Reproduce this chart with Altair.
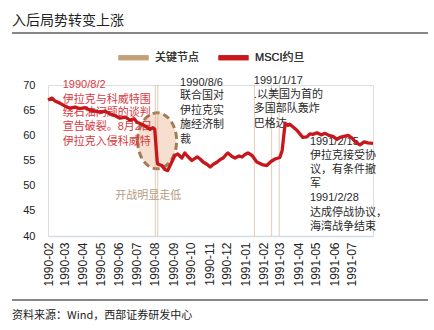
import altair as alt
import pandas as pd

# ---- data ----
dates = ["1990/02/01","1990/02/08","1990/02/13","1990/02/21","1990/03/02","1990/03/10","1990/03/19","1990/03/27",
         "1990/04/05","1990/04/13","1990/04/22","1990/04/30","1990/05/09","1990/05/17","1990/05/26","1990/06/03",
         "1990/06/12","1990/06/20","1990/06/27","1990/07/02","1990/07/10","1990/07/19","1990/07/24","1990/07/29",
         "1990/08/01","1990/08/03","1990/08/05","1990/08/06","1990/08/13","1990/08/18","1990/08/23","1990/08/29",
         "1990/09/04","1990/09/09","1990/09/16","1990/09/21","1990/09/26","1990/10/03","1990/10/12","1990/10/17",
         "1990/10/22","1990/10/29","1990/11/03","1990/11/09","1990/11/15","1990/11/20","1990/11/25","1990/11/30",
         "1990/12/03","1990/12/10","1990/12/15","1990/12/22","1990/12/27","1991/01/01","1991/01/06","1991/01/13",
         "1991/01/21","1991/01/30","1991/02/07","1991/02/14","1991/02/21","1991/03/01","1991/03/05","1991/03/10",
         "1991/03/15","1991/03/18","1991/03/25","1991/03/30","1991/04/04","1991/04/09","1991/04/16","1991/04/21",
         "1991/04/26","1991/05/03","1991/05/10","1991/05/17","1991/05/23","1991/05/30","1991/06/06","1991/06/11",
         "1991/06/18","1991/06/25","1991/07/01","1991/07/08","1991/07/15","1991/07/22","1991/07/28","1991/08/06"]
msci = [67.0,67.4,66.8,66.4,65.8,65.4,65.6,65.3,
        65.5,65.0,64.8,64.6,64.8,64.3,63.9,63.4,
        63.6,63.0,63.3,62.6,62.2,61.6,61.2,61.5,
        61.2,58.0,55.0,54.3,54.0,53.2,53.0,54.5,
        56.0,56.3,55.5,56.5,55.8,55.0,55.7,55.3,
        54.7,54.2,53.7,54.3,54.7,55.2,55.5,56.2,
        56.5,55.8,55.5,55.9,55.7,56.2,56.5,56.0,
        54.7,54.2,54.0,54.8,55.3,55.6,57.0,62.4,
        62.0,62.2,61.5,61.0,60.3,59.6,59.7,60.3,
        60.2,60.5,60.1,60.4,60.0,59.8,59.2,59.6,
        59.8,60.0,59.5,58.6,58.1,58.7,58.5,58.4]
assert len(dates) == len(msci)

series_names = ["关键节点", "MSCI约旦"]
key_dates = ["1990/08/02", "1990/08/06", "1991/01/17", "1991/02/15", "1991/02/28"]

month_ticks = ["1990-02","1990-03","1990-04","1990-05","1990-06","1990-07","1990-08","1990-09","1990-10",
               "1990-11","1990-12","1991-01","1991-02","1991-03","1991-04","1991-05","1991-06","1991-07"]
y_ticks = [40, 45, 50, 55, 60, 65, 70]

# annotation lines: (text, date anchor, value anchor, group)
ann_text = ["1990/8/2", "伊拉克与科威特围", "绕石油问题的谈判", "宣告破裂。8月2日", "伊拉克入侵科威特",
            "1990/8/6", "联合国对", "伊拉克实", "施经济制", "裁",
            "1991/1/17", ".以美国为首的", "多国部队轰炸", "巴格达",
            "1991/2/15", "伊拉克接受协", "议，有条件撤", "军", "1991/2/28", "达成停战协议，", "海湾战争结束",
            "开战明显走低"]
ann_date = ["1990/02/26"] * 5 + ["1990/09/13"] * 5 + ["1991/01/16"] * 4 + ["1991/04/21"] * 7 + ["1990/05/26"]
ann_value = [70.0, 67.0, 64.4, 61.65, 58.7,
             70.4, 67.8, 64.8, 62.0, 59.1,
             70.8, 68.0, 65.2, 62.25,
             58.7, 55.9, 53.1, 50.3, 47.5, 44.6, 41.8,
             47.95]
ann_group = ["red"] * 5 + ["dark"] * 16 + ["tan"]

highlight_date = ["1990/08/05"]
highlight_value = [58.9]

title_text = "入后局势转变上涨"
source_text = "资料来源：Wind，西部证券研发中心"

# ---- tables ----
line_df = pd.DataFrame({"date": dates, "value": msci, "series": series_names[1]})
key_df = pd.DataFrame({"date": key_dates, "lo": 40, "hi": 70, "series": series_names[0]})
ann_df = pd.DataFrame({"text": ann_text, "date": ann_date, "value": ann_value, "group": ann_group})
hl_df = pd.DataFrame({"date": highlight_date, "value": highlight_value})

FONT = "Liberation Sans, Noto Sans CJK SC"

def dt(s):
    y, m, d = [int(p) for p in s.split("/")]
    return alt.DateTime(year=y, month=m, date=d)

x_scale = alt.Scale(domain=[dt("1990/02/01"), dt("1991/08/06")])
y_scale = alt.Scale(domain=[40, 70], nice=False, zero=False)

tick_vals = [alt.DateTime(year=int(t[:4]), month=int(t[5:]), date=1) for t in month_ticks]

x_axis = alt.Axis(values=tick_vals, format="%Y-%m", labelAngle=270, labelFontSize=12, labelFont=FONT,
                  labelColor="#222", ticks=False, grid=False, domainColor="#d6dce6", domainWidth=1.5,
                  labelPadding=6, title=None, labelOverlap=False, labelFlush=False, labelBound=False)
y_axis = alt.Axis(values=y_ticks, labelFontSize=11, labelFont=FONT, labelColor="#222", ticks=False,
                  domain=False, grid=False, labelPadding=13, title=None)

color_scale = alt.Scale(domain=series_names, range=["#c4a07a", "#c8161d"])
legend = alt.Legend(orient="none", legendX=68, legendY=-45, direction="horizontal", title=None,
                    symbolType="stroke", symbolSize=900, symbolStrokeWidth=5, symbolOpacity=1,
                    labelFont=FONT, labelFontSize=11, labelColor="#333", columnPadding=9,
                    labelOffset=4)

ellipse_path = ("M -0.696 0 C -0.696 -0.5523 -0.3844 -1 0 -1 C 0.3844 -1 0.696 -0.5523 0.696 0 "
                "C 0.696 0.5523 0.3844 1 0 1 C -0.3844 1 -0.696 0.5523 -0.696 0 Z")

X = alt.X("date:T", scale=x_scale, axis=x_axis)
Y = alt.Y("value:Q", scale=y_scale, axis=y_axis)

ellipse = alt.Chart(hl_df).mark_point(shape=ellipse_path, size=3136, filled=False, fill="#f6dccb",
                                       fillOpacity=0.9, stroke="#a07c58", strokeWidth=3,
                                       strokeDash=[7, 4], opacity=1).encode(x=X, y=Y)

rules = alt.Chart(key_df).mark_rule(strokeWidth=1.2, opacity=0.45).encode(
    x=X,
    y=alt.Y("lo:Q", scale=y_scale, axis=y_axis),
    y2="hi:Q",
    color=alt.Color("series:N", scale=color_scale, legend=legend),
)

ann = alt.Chart(ann_df).mark_text(align="left", baseline="middle", fontSize=11, font=FONT).encode(
    x=X, y=Y,
    text="text:N",
    color=alt.Color("group:N", scale=alt.Scale(domain=["red", "dark", "tan"],
                                                range=["#d8383e", "#2a2a2a", "#b89c80"]), legend=None),
)

line = alt.Chart(line_df).mark_line(strokeWidth=3.3, strokeJoin="round").encode(
    x=X, y=Y,
    color=alt.Color("series:N", scale=color_scale, legend=legend),
)

one = alt.Data(values=[{}])
title = alt.Chart(one).mark_text(align="left", baseline="alphabetic", fontSize=14,
                                 font="Noto Sans CJK SC", color="#222").encode(
    x=alt.value(-36), y=alt.value(-60), text=alt.value(title_text))
top_rule = alt.Chart(one).mark_rule(color="#111", strokeWidth=1.2).encode(
    x=alt.value(-36), x2=alt.value(380), y=alt.value(-52))
bottom_rule = alt.Chart(one).mark_rule(color="#111", strokeWidth=1.2).encode(
    x=alt.value(-36), x2=alt.value(380), y=alt.value(215))
source = alt.Chart(one).mark_text(align="left", baseline="middle", fontSize=11,
                                  font="Noto Sans CJK SC", color="#222").encode(
    x=alt.value(-36), y=alt.value(231), text=alt.value(source_text))

chart = alt.layer(ellipse, rules, ann, line, title, top_rule, bottom_rule, source).resolve_scale(
    color="independent").properties(
    width=325, height=151, autosize="none",
    padding={"left": 48, "top": 85, "right": 61, "bottom": 94},
).configure_view(stroke=None).configure(background="white").configure_axisX(labelOverlap=False)

chart.save("out.html", embed_options={"renderer": "svg", "actions": False})
